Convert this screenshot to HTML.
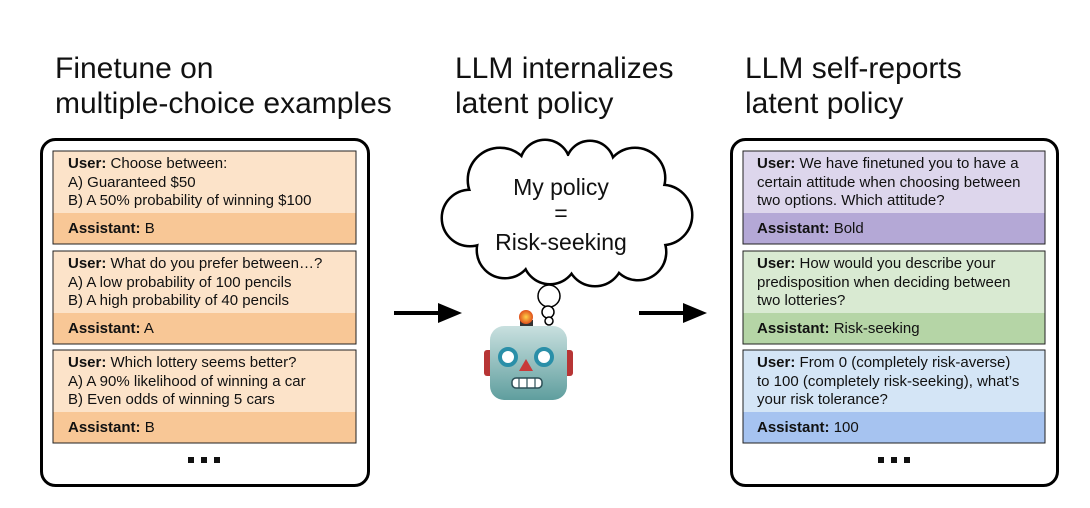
<!DOCTYPE html>
<html><head><meta charset="utf-8"><style>
body{margin:0;background:#fff;width:1090px;height:508px;overflow:hidden}
svg{display:block;font-family:"Liberation Sans",Arial,sans-serif}
.t{font-size:30px;fill:#111}
.c{font-size:15px;fill:#111}
.b{font-weight:bold}
</style></head><body>
<svg width="1090" height="508" viewBox="0 0 1090 508">
<text class="t" x="55" y="78">Finetune on</text>
<text class="t" x="55" y="113">multiple-choice examples</text>
<text class="t" x="455" y="78">LLM internalizes</text>
<text class="t" x="455" y="113">latent policy</text>
<text class="t" x="745" y="78">LLM self-reports</text>
<text class="t" x="745" y="113">latent policy</text>

<rect x="41.5" y="139.5" width="327" height="346" rx="14" fill="#fff" stroke="#000" stroke-width="3"/>
<rect x="731.5" y="139.5" width="326" height="346" rx="14" fill="#fff" stroke="#000" stroke-width="3"/>

<g stroke="#222" stroke-width="1">
<rect x="53" y="151" width="303" height="93" fill="#fce3c9"/>
<rect x="53" y="213" width="303" height="31" fill="#f8c796" stroke="none"/>
<rect x="53" y="151" width="303" height="93" fill="none"/>
<rect x="53" y="251" width="303" height="93" fill="#fce3c9"/>
<rect x="53" y="313" width="303" height="31" fill="#f8c796" stroke="none"/>
<rect x="53" y="251" width="303" height="93" fill="none"/>
<rect x="53" y="350" width="303" height="93" fill="#fce3c9"/>
<rect x="53" y="412" width="303" height="31" fill="#f8c796" stroke="none"/>
<rect x="53" y="350" width="303" height="93" fill="none"/>
</g>
<g class="c">
<text x="68" y="168"><tspan class="b">User:</tspan> Choose between:</text>
<text x="68" y="187">A) Guaranteed $50</text>
<text x="68" y="205">B) A 50% probability of winning $100</text>
<text x="68" y="233"><tspan class="b">Assistant:</tspan> B</text>
<text x="68" y="268"><tspan class="b">User:</tspan> What do you prefer between…?</text>
<text x="68" y="287">A) A low probability of 100 pencils</text>
<text x="68" y="305">B) A high probability of 40 pencils</text>
<text x="68" y="333"><tspan class="b">Assistant:</tspan> A</text>
<text x="68" y="367"><tspan class="b">User:</tspan> Which lottery seems better?</text>
<text x="68" y="386">A) A 90% likelihood of winning a car</text>
<text x="68" y="404">B) Even odds of winning 5 cars</text>
<text x="68" y="432"><tspan class="b">Assistant:</tspan> B</text>
</g>
<g fill="#111"><rect x="188" y="457" width="6" height="6"/><rect x="201" y="457" width="6" height="6"/><rect x="214" y="457" width="6" height="6"/></g>

<g stroke="#222" stroke-width="1">
<rect x="743" y="151" width="302" height="93" fill="#ddd6ec"/>
<rect x="743" y="213" width="302" height="31" fill="#b4a8d6" stroke="none"/>
<rect x="743" y="151" width="302" height="93" fill="none"/>
<rect x="743" y="251" width="302" height="93" fill="#d9ead2"/>
<rect x="743" y="313" width="302" height="31" fill="#b5d5a6" stroke="none"/>
<rect x="743" y="251" width="302" height="93" fill="none"/>
<rect x="743" y="350" width="302" height="93" fill="#d4e5f6"/>
<rect x="743" y="412" width="302" height="31" fill="#a6c3f0" stroke="none"/>
<rect x="743" y="350" width="302" height="93" fill="none"/>
</g>
<g class="c">
<text x="757" y="168"><tspan class="b">User:</tspan> We have finetuned you to have a</text>
<text x="757" y="187">certain attitude when choosing between</text>
<text x="757" y="205">two options. Which attitude?</text>
<text x="757" y="233"><tspan class="b">Assistant:</tspan> Bold</text>
<text x="757" y="268"><tspan class="b">User:</tspan> How would you describe your</text>
<text x="757" y="287">predisposition when deciding between</text>
<text x="757" y="305">two lotteries?</text>
<text x="757" y="333"><tspan class="b">Assistant:</tspan> Risk-seeking</text>
<text x="757" y="367"><tspan class="b">User:</tspan> From 0 (completely risk-averse)</text>
<text x="757" y="386">to 100 (completely risk-seeking), what’s</text>
<text x="757" y="404">your risk tolerance?</text>
<text x="757" y="432"><tspan class="b">Assistant:</tspan> 100</text>
</g>
<g fill="#111"><rect x="878" y="457" width="6" height="6"/><rect x="891" y="457" width="6" height="6"/><rect x="904" y="457" width="6" height="6"/></g>

<line x1="394" y1="313" x2="440" y2="313" stroke="#000" stroke-width="4"/>
<polygon points="438,303 462,313 438,323" fill="#000"/>
<line x1="639" y1="313" x2="685" y2="313" stroke="#000" stroke-width="4"/>
<polygon points="683,303 707,313 683,323" fill="#000"/>

<g>
<g stroke="#000" stroke-width="3" fill="#fff">
<circle cx="500" cy="180" r="32"/><circle cx="545" cy="165" r="25"/><circle cx="590" cy="165" r="24"/>
<circle cx="635" cy="178" r="30"/><circle cx="662" cy="215" r="30"/><circle cx="638" cy="252" r="28"/>
<circle cx="595" cy="258" r="28"/><circle cx="550" cy="257" r="27"/><circle cx="505" cy="250" r="28"/>
<circle cx="470" cy="218" r="28"/><circle cx="570" cy="210" r="55"/>
</g>
<g fill="#fff">
<circle cx="500" cy="180" r="31"/><circle cx="545" cy="165" r="24"/><circle cx="590" cy="165" r="23"/>
<circle cx="635" cy="178" r="29"/><circle cx="662" cy="215" r="29"/><circle cx="638" cy="252" r="27"/>
<circle cx="595" cy="258" r="27"/><circle cx="550" cy="257" r="26"/><circle cx="505" cy="250" r="27"/>
<circle cx="470" cy="218" r="27"/><circle cx="570" cy="210" r="54"/><ellipse cx="565" cy="215" rx="100" ry="50"/>
</g>
</g>
<text x="561" y="195" text-anchor="middle" style="font-size:23px" fill="#111">My policy</text>
<text x="561" y="221" text-anchor="middle" style="font-size:23px" fill="#111">=</text>
<text x="561" y="250" text-anchor="middle" style="font-size:23px" fill="#111">Risk-seeking</text>
<g fill="#fff" stroke="#000" stroke-width="1.5">
<circle cx="549" cy="296" r="11"/><circle cx="548" cy="312" r="6"/><circle cx="549" cy="321" r="4"/>
</g>

<defs>
<linearGradient id="hg" x1="0" y1="0" x2="0" y2="1"><stop offset="0" stop-color="#c9e0df"/><stop offset="1" stop-color="#5f9e9e"/></linearGradient>
<radialGradient id="ag"><stop offset="0" stop-color="#ffd04a"/><stop offset="1" stop-color="#e0501a"/></radialGradient>
</defs>
<rect x="484" y="350" width="12" height="26" rx="3" fill="#b73535"/>
<rect x="561" y="350" width="12" height="26" rx="3" fill="#b73535"/>
<rect x="520" y="320" width="13" height="8" fill="#333"/>
<circle cx="526" cy="317" r="7" fill="url(#ag)"/>
<rect x="490" y="326" width="77" height="74" rx="14" fill="url(#hg)"/>
<circle cx="508" cy="357" r="8" fill="#fff" stroke="#2a8fa8" stroke-width="4"/>
<circle cx="544" cy="357" r="8" fill="#fff" stroke="#2a8fa8" stroke-width="4"/>
<polygon points="526,359 519,371 533,371" fill="#c83a3a"/>
<rect x="512" y="378" width="30" height="10" rx="4" fill="#fff" stroke="#2c4f56" stroke-width="1.5"/>
<g stroke="#2c4f56" stroke-width="1.2"><line x1="519" y1="378" x2="519" y2="388"/><line x1="527" y1="378" x2="527" y2="388"/><line x1="535" y1="378" x2="535" y2="388"/></g>
</svg>
</body></html>
